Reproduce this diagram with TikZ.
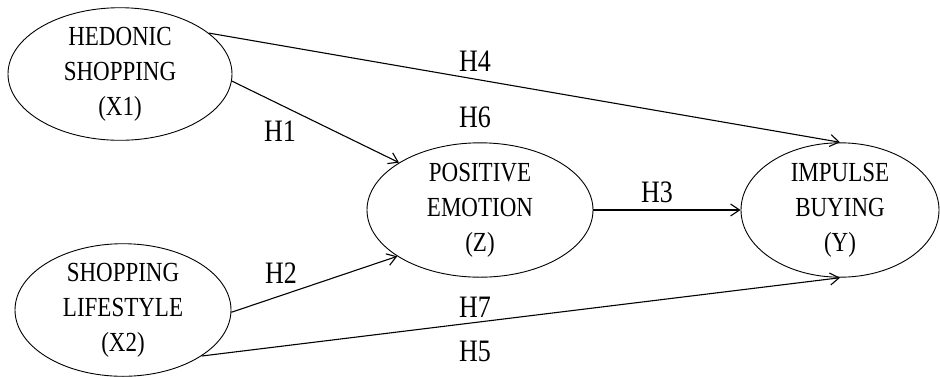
\documentclass[tikz,border=0pt]{standalone}
\usepackage{fontspec}
\setmainfont{Liberation Serif}
\usetikzlibrary{arrows.meta,shapes.geometric}

\begin{document}
\begin{tikzpicture}[x=1pt,y=-1pt,
  var/.style={ellipse,draw,line width=0.9pt,inner sep=0pt,align=center,yscale=1.2,font=\fontsize{23}{29}\selectfont},
  link/.style={line width=1.1pt,-{Straight Barb[length=9pt,width=12pt]}},
  hyp/.style={inner sep=0pt,yscale=1.2,font=\fontsize{26}{30}\selectfont}]
\useasboundingbox (0,0) rectangle (940,376);
\node[var,minimum width=224pt,minimum height=103pt] (x1) at (120,74) {HEDONIC\\SHOPPING\\(X1)};
\node[var,minimum width=216pt,minimum height=108pt] (x2) at (123,310) {SHOPPING\\LIFESTYLE\\(X2)};
\node[var,minimum width=226pt,minimum height=112pt] (z) at (480,210) {POSITIVE\\EMOTION\\(Z)};
\node[var,minimum width=198pt,minimum height=112pt] (y) at (840,210) {IMPULSE\\BUYING\\(Y)};
\draw[link] (x1.21) -- (y.north);
\draw[link] (x1.-3) -- (z.154);
\draw[link] (x2.-1) -- (z.205);
\draw[link] (z.east) -- (y.west);
\draw[link] (x2.-26) -- (y.south);
\foreach \n/\x/\y in {H4/475/61,H6/475/117,H1/280/131,H3/657/192,H2/281/273,H7/475/307,H5/475/351} {
\node[hyp] (l\n) at (\x,\y) {\n};}
\end{tikzpicture}
\end{document}
